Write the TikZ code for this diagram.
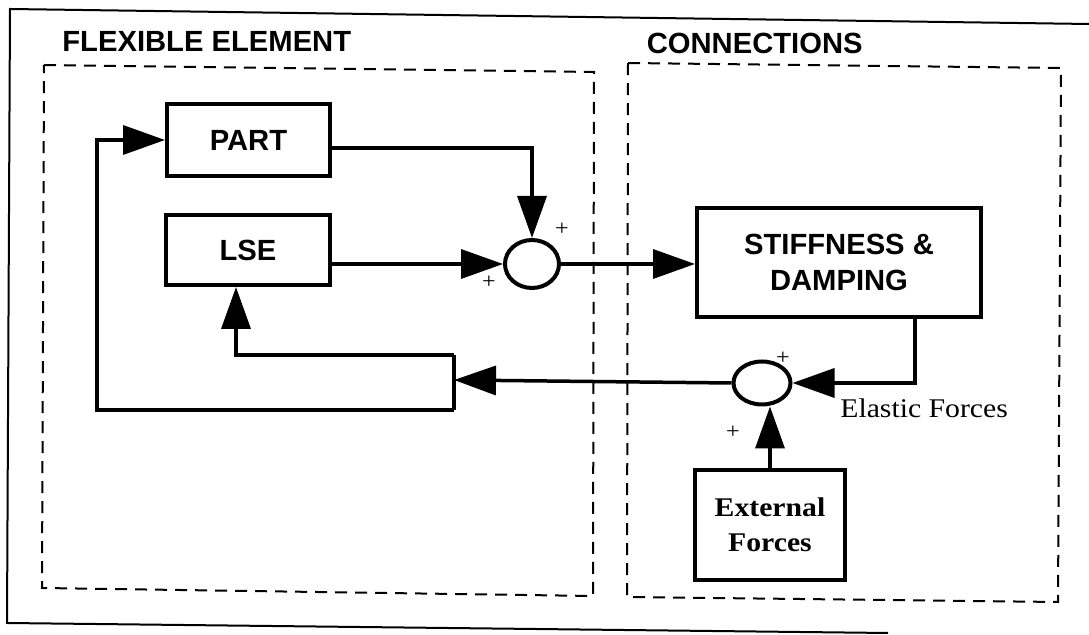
\documentclass[tikz,border=0pt]{standalone}
\usepackage{fontspec}
\usepackage{tikz}
\usetikzlibrary{arrows.meta,shapes.geometric}
\newfontfamily\sansx{Liberation Sans}
\newfontfamily\serifx[FakeStretch=1.1]{Liberation Serif}

\begin{document}
\begin{tikzpicture}[x=0.5pt,y=-0.5pt,
  blk/.style={draw,line width=2pt,inner sep=0pt,align=center,font=\sansx\bfseries\fontsize{14.6pt}{18pt}\selectfont},
  sumj/.style={draw,ellipse,line width=2pt,inner sep=0pt},
  conn/.style={line width=1.75pt,-{Triangle[length=21pt,width=14.5pt]}},
  wire/.style={line width=1.75pt},
  grp/.style={line width=1pt,dash pattern=on 6pt off 4pt},
  ttl/.style={font=\sansx\bfseries\fontsize{14.6pt}{18pt}\selectfont,inner sep=0pt},
  sgn/.style={font=\serifx\fontsize{11pt}{11pt}\selectfont,inner sep=0pt}]
  \useasboundingbox (0,0) rectangle (1089,635);
  % frame and groups
  \draw[line width=1pt] (1089,24) -- (10,9) -- (7,623) -- (888,633);
  \draw[grp] (44,65) -- (594,72) -- (593,596) -- (42,588) -- cycle;
  \draw[grp] (628,63) -- (1061,68) -- (1058,602) -- (627,597) -- cycle;
  \node[ttl,anchor=west] (tflex) at (62,41) {FLEXIBLE ELEMENT};
  \node[ttl,anchor=east] (tconn) at (863,43) {CONNECTIONS};
  % blocks
  \node[blk,minimum width=81.5pt,minimum height=36pt] (part) at (248.5,140) {PART};
  \node[blk,minimum width=82pt,minimum height=35pt] (lse) at (248,250) {LSE};
  \node[blk,minimum width=142pt,minimum height=54.5pt] (stiff) at (839,262.5) {STIFFNESS \&\\DAMPING};
  \node[blk,minimum width=75pt,minimum height=55pt,font=\serifx\bfseries\fontsize{13.5pt}{17.5pt}\selectfont] (ext) at (770,525) {External\\Forces};
  \node[sumj,minimum width=27pt,minimum height=24pt] (s1) at (532,264) {};
  \node[sumj,minimum width=28.5pt,minimum height=21.5pt] (s2) at (762,383) {};
  % signs
  \node[sgn] (p1) at (562,229) {+};
  \node[sgn] (p2) at (489,282) {+};
  \node[sgn] (p3) at (783,358) {+};
  \node[sgn] (p4) at (733,432) {+};
  \node[anchor=base west,inner sep=0pt,font=\serifx\fontsize{13.5pt}{16pt}\selectfont] (ela) at (840,418) {Elastic Forces};
  % connections
  \coordinate (jt) at (454,355);
  \coordinate (jm) at (454,380);
  \coordinate (jb) at (454,410);
  \draw[conn] ([yshift=-4pt]part.east) -| (s1.north);
  \draw[conn] (lse.east |- s1.west) -- (s1.west);
  \draw[conn] (s1.east) -- (s1.east -| stiff.west);
  \draw[conn] ([xshift=38pt]stiff.south) |- (s2.east);
  \draw[conn] (ext.north) -- (ext.north |- s2.south);
  \draw[conn] (s2.west) -- (jm);
  \draw[wire] (jt) -- (jb);
  \draw[conn] (jt) -| ([xshift=-6pt]lse.south);
  \draw[conn] (jb) -| (97,300) |- (part.west);
\end{tikzpicture}
\end{document}
